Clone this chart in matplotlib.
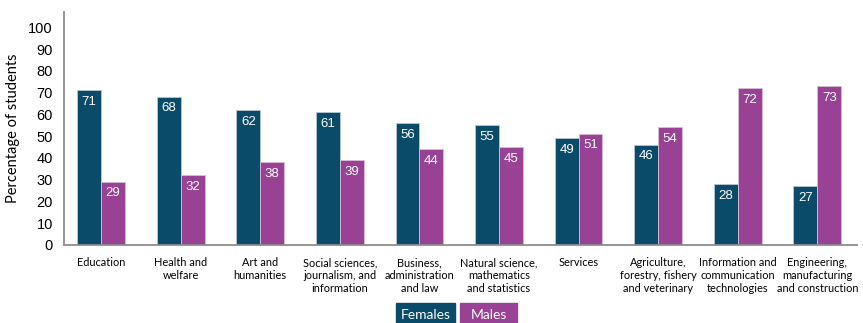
import numpy as np
import matplotlib.pyplot as plt
from matplotlib.patches import Rectangle

categories = ["Education", "Health and\nwelfare", "Art and\nhumanities",
              "Social sciences,\njournalism, and\ninformation",
              "Business,\nadministration\nand law",
              "Natural science,\nmathematics\nand statistics",
              "Services",
              "Agriculture,\nforestry, fishery\nand veterinary",
              "Information and\ncommunication\ntechnologies",
              "Engineering,\nmanufacturing\nand construction"]
females = [71, 68, 62, 61, 56, 55, 49, 46, 28, 27]
males = [29, 32, 38, 39, 44, 45, 51, 54, 72, 73]
series_names = ["Females", "Males"]

teal = "#0b4b6a"
purple = "#984195"
num_font = "Liberation Sans"
txt_font = "Lato"

fig = plt.figure(figsize=(8.63, 3.23), dpi=100)
ax = fig.add_axes([0.0742, 0.2415, 0.919, 0.7214])

x = np.arange(len(categories))
w = 0.30
b1 = ax.bar(x - w/2, females, w, color=teal, edgecolor="#b9c6d2", linewidth=0.6)
b2 = ax.bar(x + w/2, males, w, color=purple, edgecolor="#d7bfd6", linewidth=0.6)

# value labels sit just inside the top of each bar
for bars, vals in ((b1, females), (b2, males)):
    for r, v in zip(bars, vals):
        ax.annotate(str(v), (r.get_x() + r.get_width()/2, v), xytext=(0, -4),
                    textcoords="offset points", ha="center", va="top",
                    color="white", fontsize=9.5, family=num_font)

ax.set_xlim(-0.465, 9.5)
ax.set_ylim(0, 107)
ax.set_yticks(range(0, 101, 10))
ax.set_yticklabels([str(t) for t in range(0, 101, 10)], family=num_font, fontsize=10.5)
ax.set_xticks(x)
ax.set_xticklabels(categories, family=txt_font, fontsize=7.9, linespacing=1.22, va="top")
ax.tick_params(axis="both", length=0)
ax.tick_params(axis="x", pad=9)
ax.tick_params(axis="y", pad=8)
ax.set_ylabel("Percentage of students", family=txt_font, fontsize=10.5, labelpad=6)

for s in ("top", "right"):
    ax.spines[s].set_visible(False)
for s in ("left", "bottom"):
    ax.spines[s].set_color("#8c8c8c")
    ax.spines[s].set_linewidth(1.3)

# legend drawn as solid boxes with the series name inside
legend_boxes = [(396, 59, teal), (460, 57, purple)]
for (x0, bw, c), name in zip(legend_boxes, series_names):
    fig.patches.append(Rectangle((x0/863, 0), bw/863, 20/323, transform=fig.transFigure,
                                 color=c, zorder=1))
    fig.text((x0 + bw/2)/863, 1 - 315/323, name, ha="center", va="center",
             color="white", family=txt_font, fontsize=10)

fig.savefig("out.png", dpi=100)
